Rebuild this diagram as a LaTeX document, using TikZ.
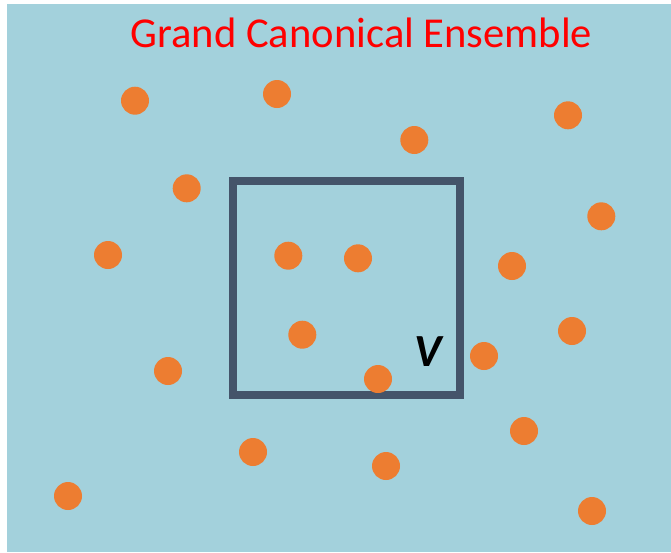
\documentclass[tikz,border=0pt]{standalone}
\usepackage{fontspec}
\setmainfont{Carlito}
\definecolor{seablue}{HTML}{A3D1DC}
\definecolor{dotorange}{HTML}{ED7D31}
\definecolor{boxslate}{HTML}{44546A}
\tikzset{
    particle/.style={circle, fill=dotorange, inner sep=0pt, minimum size=28pt},
}
\begin{document}
\begin{tikzpicture}[x=1pt, y=-1pt]
        \useasboundingbox (0,0) rectangle (671,552);
        \fill[seablue] (7,4) rectangle (671,552);
        
        \node[anchor=base, text=red, font=\fontsize{42.6}{46}\selectfont] (title) at (361.5,47) {Grand Canonical Ensemble};
        
        % the open subsystem of volume V
        \draw[boxslate, line width=8pt] (232.7,181) rectangle (460,395);
        \node[anchor=base, font=\fontsize{46}{50}\selectfont\bfseries\itshape] (vol) at (428,366) {V};
        
        % particles
        \foreach \x/\y [count=\i] in {135/100.7, 277/94, 414.3/140, 568/115.3, 186.7/188.3,
            601.3/216.3, 108/255, 288.3/255.7, 358/258.3, 512/266, 302.3/334.7, 572/331,
            484/356, 168/371, 378/379, 524/431, 253/452, 386/466, 68/496, 592/511}
            \node[particle] (p\i) at (\x,\y) {};
        
    \end{tikzpicture}
\end{document}
